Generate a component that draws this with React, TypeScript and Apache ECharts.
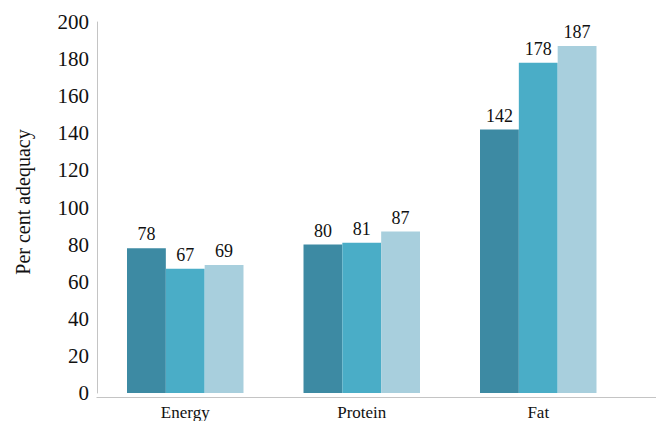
import React, { useEffect, useRef } from "react";
import * as echarts from "echarts";

const categories = ["Energy", "Protein", "Fat"];
const seriesA = [78, 80, 142];
const seriesB = [67, 81, 178];
const seriesC = [69, 87, 187];
const seriesColors = ["#3d8aa3", "#4aadc7", "#a8cfdd"];

const FONT = "Liberation Serif, Times New Roman, serif";

export default function App() {
  const ref = useRef<HTMLDivElement>(null);

  useEffect(() => {
    document.body.style.margin = "0";
    if (!ref.current) return;
    const chart = echarts.init(ref.current, null, { renderer: "svg" });

    const makeSeries = (data: number[], color: string) => ({
      type: "bar",
      data,
      barGap: "0%",
      barCategoryGap: "34%",
      itemStyle: { color },
      label: {
        show: true,
        position: "top",
        distance: 5,
        color: "#111",
        fontFamily: FONT,
        fontSize: 18,
      },
    });

    chart.setOption({
      animation: false,
      backgroundColor: "#ffffff",
      textStyle: { fontFamily: FONT },
      grid: { left: 97, right: 29.5, top: 22, bottom: 24 },
      xAxis: {
        type: "category",
        data: categories,
        axisLine: { show: false },
        axisTick: { show: false },
        axisLabel: {
          color: "#111",
          fontFamily: FONT,
          fontSize: 17,
          margin: 11,
        },
      },
      yAxis: {
        type: "value",
        min: 0,
        max: 200,
        interval: 20,
        name: "Per cent adequacy",
        nameLocation: "middle",
        nameGap: 64,
        nameTextStyle: {
          color: "#111",
          fontFamily: FONT,
          fontSize: 20,
          padding: [0, 0, 0, 11],
        },
        axisLine: { show: true, lineStyle: { color: "#c4c4c4", width: 1 } },
        axisTick: { show: false },
        splitLine: { show: false },
        axisLabel: {
          color: "#111",
          fontFamily: FONT,
          fontSize: 21,
          margin: 8,
        },
      },
      graphic: [
        {
          type: "line",
          z: 10,
          shape: { x1: 96.5, y1: 397.5, x2: 656, y2: 397.5 },
          style: { stroke: "#c4c4c4", lineWidth: 1 },
        },
      ],
      series: [
        makeSeries(seriesA, seriesColors[0]),
        makeSeries(seriesB, seriesColors[1]),
        makeSeries(seriesC, seriesColors[2]),
      ],
    });

    return () => chart.dispose();
  }, []);

  return <div ref={ref} style={{ width: 656, height: 421 }} />;
}
